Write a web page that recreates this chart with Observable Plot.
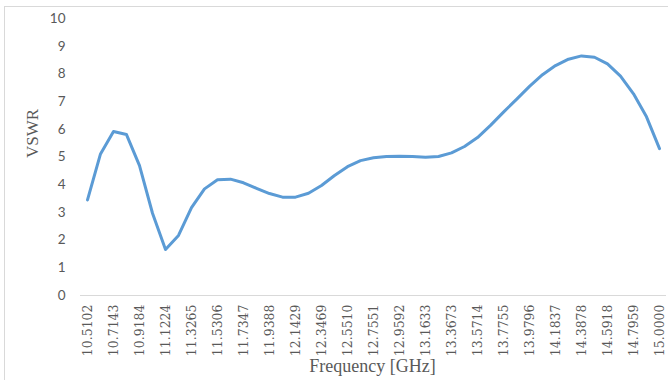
<!DOCTYPE html>
<html>
<head>
<meta charset="utf-8">
<script src="https://cdn.jsdelivr.net/npm/d3@7"></script>
<script src="https://cdn.jsdelivr.net/npm/@observablehq/plot@0.6"></script>
<style>
  html, body { margin: 0; padding: 0; background: #fff; overflow: hidden; }
  #wrap { position: relative; width: 668px; height: 380px; }
  #border { position: absolute; left: 4px; top: 6px; width: 700px; height: 400px; border: 1px solid #d9d9d9; box-sizing: border-box; pointer-events: none; }
</style>
</head>
<body>
<div id="wrap"><div id="border"></div></div>
<script>
const frequencies = [
  "10.5102","10.6122","10.7143","10.8163","10.9184","11.0204","11.1224","11.2245","11.3265","11.4286",
  "11.5306","11.6327","11.7347","11.8367","11.9388","12.0408","12.1429","12.2449","12.3469","12.4490",
  "12.5510","12.6531","12.7551","12.8571","12.9592","13.0612","13.1633","13.2653","13.3673","13.4694",
  "13.5714","13.6735","13.7755","13.8776","13.9796","14.0816","14.1837","14.2857","14.3878","14.4898",
  "14.5918","14.6939","14.7959","14.8980","15.0000"
];
const vswr = [
  3.45, 5.11, 5.92, 5.81, 4.69, 2.97, 1.66, 2.17, 3.17, 3.85,
  4.18, 4.20, 4.07, 3.87, 3.68, 3.55, 3.55, 3.69, 3.97, 4.33,
  4.65, 4.87, 4.97, 5.02, 5.03, 5.02, 4.99, 5.02, 5.15, 5.38,
  5.70, 6.14, 6.62, 7.08, 7.55, 7.97, 8.30, 8.53, 8.65, 8.60,
  8.36, 7.92, 7.28, 6.45, 5.30
];
const xTickLabels = frequencies.filter((d, i) => i % 2 === 0);
const yTicks = [0,1,2,3,4,5,6,7,8,9,10];

const data = frequencies.map((f, i) => ({f, v: vswr[i]}));

const chart = Plot.plot({
  width: 668,
  height: 380,
  marginLeft: 80,
  marginRight: 2,
  marginTop: 18,
  marginBottom: 85,
  style: {background: "transparent", overflow: "visible"},
  x: {type: "point", domain: frequencies, padding: 0.5},
  y: {domain: [0, 10]},
  marks: [
    Plot.ruleY([0], {stroke: "#d9d9d9", strokeWidth: 1}),
    Plot.axisY({ticks: yTicks, tickSize: 0, tickPadding: 15, label: null,
      fontFamily: "Lato, sans-serif", fontSize: 13.5, fill: "#595959"}),
    Plot.axisX({ticks: xTickLabels, tickSize: 0, tickPadding: 9, tickRotate: -90, label: null,
      fontFamily: "'DejaVu Serif', serif", fontSize: 12.5, fill: "#595959"}),
    Plot.line(data, {x: "f", y: "v", stroke: "#5b9bd5", strokeWidth: 3, strokeLinejoin: "round", strokeLinecap: "round"}),
    Plot.text(["VSWR"], {frameAnchor: "left", dx: -48, dy: 1, rotate: -90, fontFamily: "'Liberation Serif', serif", fontSize: 17, fill: "#595959"}),
    Plot.text(["Frequency [GHz]"], {frameAnchor: "bottom", dx: -1, dy: 76, fontFamily: "'Liberation Serif', serif", fontSize: 18, fill: "#595959"})
  ]
});
document.getElementById("wrap").prepend(chart);
</script>
</body>
</html>
